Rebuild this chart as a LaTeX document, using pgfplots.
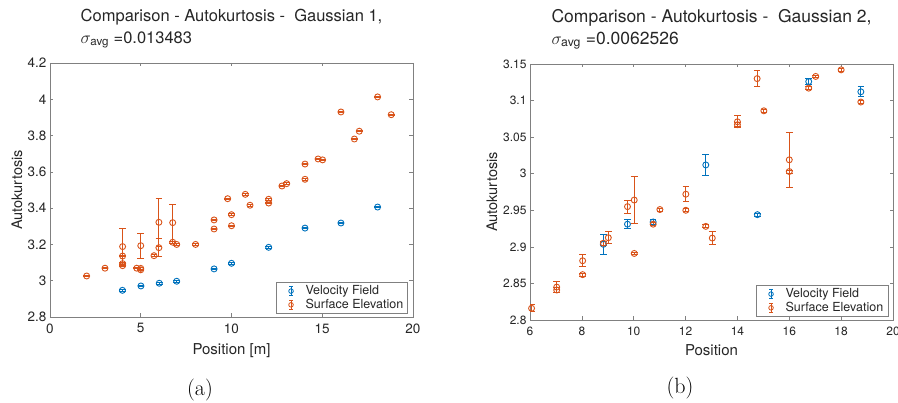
\documentclass[border=0pt]{standalone}
\usepackage{fontspec}
\setmainfont{TeX Gyre Heros}
\newfontfamily\lmroman{Latin Modern Roman}
\usepackage{amsmath}
\usepackage{pgfplots}
\pgfplotsset{compat=1.18}
\definecolor{mblue}{HTML}{0072BD}
\definecolor{morange}{HTML}{D95319}
\definecolor{axgray}{HTML}{808080}
\definecolor{txtgray}{HTML}{262626}

\pgfplotsset{
  mstyle/.style={
    scale only axis,
    anchor=south west,
    axis line style={axgray, line width=0.6pt},
    every tick/.style={axgray, line width=0.6pt},
    major tick length=3.5pt,
    tick align=inside,
    /pgf/number format/assume math mode=true,
    ticklabel style={text=txtgray},
    label style={text=txtgray},
    title style={text=txtgray, align=left, anchor=south,
                 at={(axis description cs:0.5,1)}, yshift=5pt},
    legend cell align=left,
    legend style={draw=axgray, line width=0.5pt,
                  nodes={font=\fontsize{12.5}{13}\selectfont, text=txtgray,
                         inner sep=1.5pt},
                  at={(axis description cs:1,0)}, anchor=south east,
                  xshift=-5pt, yshift=3pt, inner xsep=3pt, inner ysep=2pt},
  },
  ebar/.style={only marks, color=#1, mark=o, mark size=3pt,
    mark options={line width=0.9pt, solid},
    legend image code/.code={
      \draw[line width=0.8pt] (12pt,-4.5pt) -- (12pt,4.5pt)
        (10pt,-4.5pt) -- (14pt,-4.5pt) (10pt,4.5pt) -- (14pt,4.5pt);
      \draw[line width=0.8pt] (12pt,0) circle (2.3pt);
      \path[draw=none] (0pt,0) -- (25pt,0);
    },
    error bars/.cd, y dir=both, y explicit,
    error mark=|,
    error bar style={line width=0.9pt},
    error mark options={line width=0.9pt, mark size=3.3pt}},
}

\begin{document}
\begin{tikzpicture}
\path[use as bounding box] (0,0) rectangle (898pt,403pt);

% (a) Gaussian 1
\begin{axis}[mstyle,
  at={(50pt,86pt)}, width=363pt, height=254pt,
  xmin=0, xmax=20, ymin=2.8, ymax=4.2,
  xtick={0,5,10,15,20},
  ytick={2.8,3,3.2,3.4,3.6,3.8,4,4.2},
  ticklabel style={font=\fontsize{13.5}{15}\selectfont},
  xticklabel style={yshift=-3pt},
  xlabel={Position [m]},
  ylabel={Autokurtosis},
  xlabel style={font=\fontsize{15}{17}\selectfont, at={(axis description cs:0.5,-0.134)}, anchor=center},
  ylabel style={font=\fontsize{14.5}{17}\selectfont, at={(axis description cs:-0.091,0.5)}, anchor=center},
  title style={font=\fontsize{16.5}{22}\selectfont},
  title={Comparison - Autokurtosis -\ \ Gaussian 1,\\$\sigma_{\text{avg}}$ =0.013483},
]
\addplot+[ebar=mblue] table[y error=e] {
x y e
3.99 2.947 0.004
5.01 2.971 0.004
6.02 2.986 0.004
6.98 2.997 0.006
9.04 3.065 0.004
10.0 3.096 0.004
12.05 3.184 0.004
14.05 3.290 0.004
16.03 3.318 0.004
18.05 3.406 0.004
};
\addlegendentry{Velocity Field}
\addplot+[ebar=morange] table[y error=e] {
x y e
2.02 3.026 0.005
3.03 3.069 0.004
4.00 3.188 0.100
4.00 3.136 0.004
4.00 3.094 0.008
4.00 3.083 0.004
4.78 3.069 0.004
5.00 3.193 0.068
5.00 3.068 0.006
5.00 3.060 0.004
5.73 3.138 0.004
6.00 3.322 0.132
6.00 3.182 0.050
6.76 3.320 0.103
6.76 3.212 0.004
6.98 3.200 0.004
8.02 3.200 0.004
9.04 3.285 0.004
9.04 3.335 0.004
9.79 3.452 0.004
10.0 3.303 0.004
10.0 3.364 0.004
10.76 3.476 0.004
11.02 3.416 0.004
12.05 3.449 0.004
12.05 3.428 0.004
12.78 3.522 0.004
13.04 3.535 0.004
14.05 3.643 0.004
14.05 3.559 0.004
14.77 3.671 0.004
15.02 3.666 0.004
16.03 3.930 0.004
16.77 3.781 0.004
17.04 3.824 0.004
18.05 4.013 0.004
18.80 3.915 0.004
};
\addlegendentry{Surface Elevation}
\end{axis}

% (b) Gaussian 2
\begin{axis}[mstyle,
  at={(530pt,83pt)}, width=363pt, height=256pt,
  xmin=6, xmax=20, ymin=2.8, ymax=3.15,
  xtick={6,8,10,12,14,16,18,20},
  ytick={2.8,2.85,2.9,2.95,3,3.05,3.1,3.15},
  ticklabel style={font=\fontsize{12}{14}\selectfont},
  xticklabel style={yshift=-3pt},
  xlabel={Position},
  ylabel={Autokurtosis},
  xlabel style={font=\fontsize{15}{17}\selectfont, at={(axis description cs:0.5,-0.117)}, anchor=center},
  ylabel style={font=\fontsize{14.5}{17}\selectfont, at={(axis description cs:-0.105,0.5)}, anchor=center},
  title style={font=\fontsize{17.5}{22}\selectfont},
  title={Comparison - Autokurtosis -\ \ Gaussian 2,\\$\sigma_{\text{avg}}$ =0.0062526},
]
\addplot+[ebar=mblue] table[y error=e] {
x y e
8.83 2.9035 0.0137
9.76 2.931 0.006
10.75 2.934 0.003
12.78 3.012 0.015
14.77 2.944 0.002
16.75 3.126 0.004
18.76 3.112 0.007
};
\addlegendentry{Velocity Field}
\addplot+[ebar=morange] table[y error=e] {
x y e
6.06 2.816 0.005
7.03 2.845 0.008
7.03 2.841 0.003
8.03 2.881 0.008
8.03 2.862 0.002
8.83 2.905 0.003
9.02 2.9125 0.0085
9.76 2.955 0.009
10.02 2.964 0.032
10.02 2.891 0.002
10.75 2.931 0.002
11.01 2.951 0.002
12.01 2.972 0.010
12.01 2.950 0.002
12.78 2.928 0.002
13.03 2.912 0.009
14.00 3.071 0.008
14.00 3.067 0.003
14.76 3.130 0.011
15.02 3.086 0.002
16.00 3.019 0.038
16.00 3.003 0.002
16.75 3.117 0.002
17.02 3.133 0.002
18.00 3.142 0.002
18.76 3.098 0.002
};
\addlegendentry{Surface Elevation}
\end{axis}

\node[font=\lmroman\fontsize{22}{24}\selectfont, text=black] at (200pt,13pt) {(a)};
\node[font=\lmroman\fontsize{22}{24}\selectfont, text=black] at (680pt,15pt) {(b)};
\end{tikzpicture}
\end{document}
